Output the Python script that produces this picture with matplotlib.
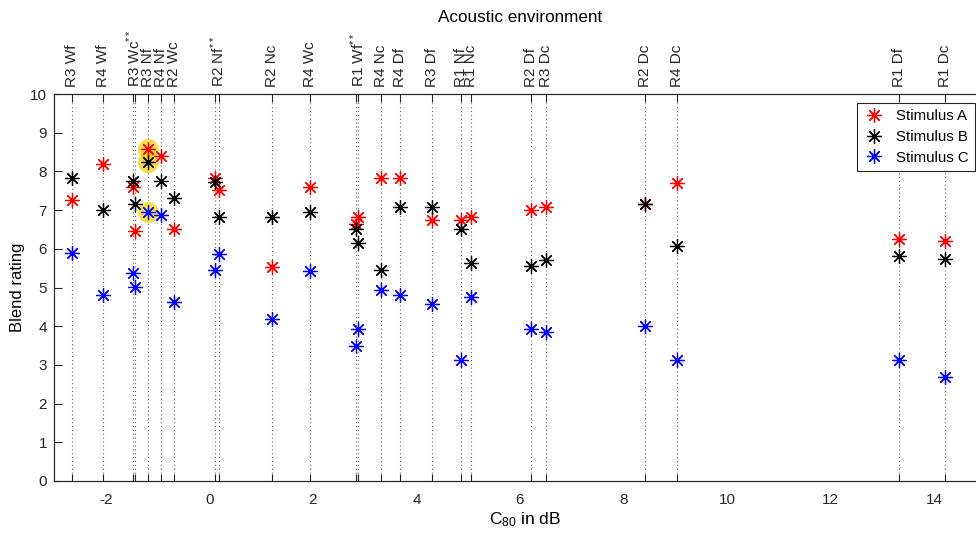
import numpy as np
import matplotlib
matplotlib.use("Agg")
import matplotlib.pyplot as plt

plt.rcParams["font.family"] = ["Liberation Sans", "DejaVu Sans"]
plt.rcParams["mathtext.fontset"] = "custom"
plt.rcParams["mathtext.rm"] = "Liberation Sans"
plt.rcParams["mathtext.it"] = "Liberation Sans"

# Acoustic environment of each listening condition (doubled ** rooms appear twice)
conditions = ["R3 Wf", "R4 Wf", "R3 Wc**", "R3 Wc**", "R3 Nf", "R4 Nf", "R2 Wc",
              "R2 Nf**", "R2 Nf**", "R2 Nc", "R4 Wc", "R1 Wf**", "R1 Wf**",
              "R4 Nc", "R4 Df", "R3 Df", "R1 Nf", "R1 Nc", "R2 Df", "R3 Dc",
              "R2 Dc", "R4 Dc", "R1 Df", "R1 Dc"]

# Clarity C80 (dB) of each condition
c80 = [-2.66, -2.06, -1.476, -1.437, -1.19, -0.93, -0.69,
       0.116, 0.193, 1.21, 1.94, 2.84, 2.88,
       3.31, 3.68, 4.30, 4.86, 5.05, 6.21, 6.51,
       8.41, 9.03, 13.32, 14.20]

# Mean blend ratings per stimulus
stim_a = [7.26, 8.19, 7.59, 6.47, 8.59, 8.40, 6.51,
          7.84, 7.51, 5.52, 7.60, 6.64, 6.81,
          7.82, 7.82, 6.75, 6.75, 6.81, 7.00, 7.07,
          7.15, 7.69, 6.25, 6.20]
stim_b = [7.82, 7.00, 7.76, 7.16, 8.25, 7.76, 7.31,
          7.72, 6.81, 6.81, 6.96, 6.50, 6.16,
          5.44, 7.07, 7.07, 6.51, 5.64, 5.56, 5.71,
          7.15, 6.07, 5.82, 5.74]
stim_c = [5.88, 4.81, 5.37, 5.02, 6.96, 6.87, 4.63,
          5.45, 5.87, 4.19, 5.43, 3.50, 3.93,
          4.94, 4.81, 4.57, 3.13, 4.76, 3.93, 3.86,
          4.01, 3.13, 3.13, 2.70]

series_names = ["Stimulus A", "Stimulus B", "Stimulus C"]
series_colors = ["#ff0000", "#000000", "#0000ff"]
highlighted = ["R3 Nf"]

x_ticks = [-2, 0, 2, 4, 6, 8, 10, 12, 14]
y_ticks = list(range(0, 11))

axis_col = "#262626"

fig = plt.figure(figsize=(9.76, 5.36), dpi=100)
ax = fig.add_axes([54 / 976, 55 / 536, 932 / 976, 387 / 536])
ax.set_xlim(-3, 15)
ax.set_ylim(0, 10)

# dotted guide line per condition
for xv in c80:
    ax.plot([xv, xv], [0, 10], linestyle=(0, (1, 2.5)), color="0.4",
            linewidth=0.8, zorder=1)

# highlighted conditions
c80_arr = np.array(c80)
hl_mask = np.array([c in highlighted for c in conditions])
for vals in (stim_a, stim_b, stim_c):
    v = np.array(vals)
    ax.scatter(c80_arr[hl_mask], v[hl_mask], s=230, color="#f5d000",
               alpha=0.7, linewidths=0, zorder=2)

star = (8, 2, 0)
handles = []
for vals, name, col in zip((stim_a, stim_b, stim_c), series_names, series_colors):
    h, = ax.plot(c80, vals, linestyle="none", marker=star, markersize=10.5,
                 markeredgewidth=0.9, color=col, label=name, zorder=3)
    handles.append(h)

# bottom axis: numeric C80 labels, tick marks at condition positions
ax.set_xticks(x_ticks)
ax.set_xticklabels([str(t) for t in x_ticks])
ax.set_xticks(c80, minor=True)
ax.xaxis.remove_overlapping_locs = False
ax.tick_params(axis="x", which="major", length=0, pad=9, labelsize=11, colors=axis_col)
ax.tick_params(axis="x", which="minor", direction="in", length=5, width=0.8,
               color=axis_col)
ax.set_yticks(y_ticks)
ax.tick_params(axis="y", which="major", direction="in", length=6, width=0.8,
               labelsize=11, colors=axis_col, pad=5)
for sp in ax.spines.values():
    sp.set_color(axis_col)
    sp.set_linewidth(0.8)

ax.set_ylabel("Blend rating", fontsize=12, color="black")
ax.yaxis.label.set_verticalalignment("center")
ax.yaxis.set_label_coords(-36 / 932, 0.5)
ax.set_xlabel("C$_{80}$ in dB", fontsize=12.5, color="black")
ax.xaxis.label.set_verticalalignment("center")
ax.xaxis.set_label_coords(471 / 932, -39 / 387)

# top axis: condition labels
top = ax.twiny()
top.set_xlim(ax.get_xlim())
top.xaxis.remove_overlapping_locs = False
names_unique = []
for c in conditions:
    if c not in names_unique:
        names_unique.append(c)
label_pos = [np.mean([x for x, c in zip(c80, conditions) if c == n]) for n in names_unique]


def fmt(n):
    return n.replace("**", "$^{**}$")


top.set_xticks(c80)
top.set_xticklabels([""] * len(c80))
top.set_xticks(label_pos, minor=True)
top.set_xticklabels([fmt(n) for n in names_unique], minor=True, rotation=90)
top.tick_params(axis="x", which="major", direction="in", length=6, width=0.8,
                color=axis_col)
top.tick_params(axis="x", which="minor", length=0, pad=5, labelsize=11,
                labelcolor=axis_col)
for sp in top.spines.values():
    sp.set_color(axis_col)
    sp.set_linewidth(0.8)

fig.text(520 / 976, 1 - 17 / 536, "Acoustic environment", ha="center",
         va="center", fontsize=12.3, color="black")

leg = ax.legend(handles=handles, loc="upper left",
                bbox_to_anchor=((857 - 54) / 932, (481 - 103) / 387),
                fontsize=10.8, frameon=True, fancybox=False, framealpha=1,
                edgecolor=axis_col, borderpad=0.4, handlelength=1.5,
                handletextpad=0.7, labelspacing=0.45, borderaxespad=0)
leg.get_frame().set_linewidth(0.8)
leg.set_zorder(10)

fig.savefig("out.png", dpi=100)
